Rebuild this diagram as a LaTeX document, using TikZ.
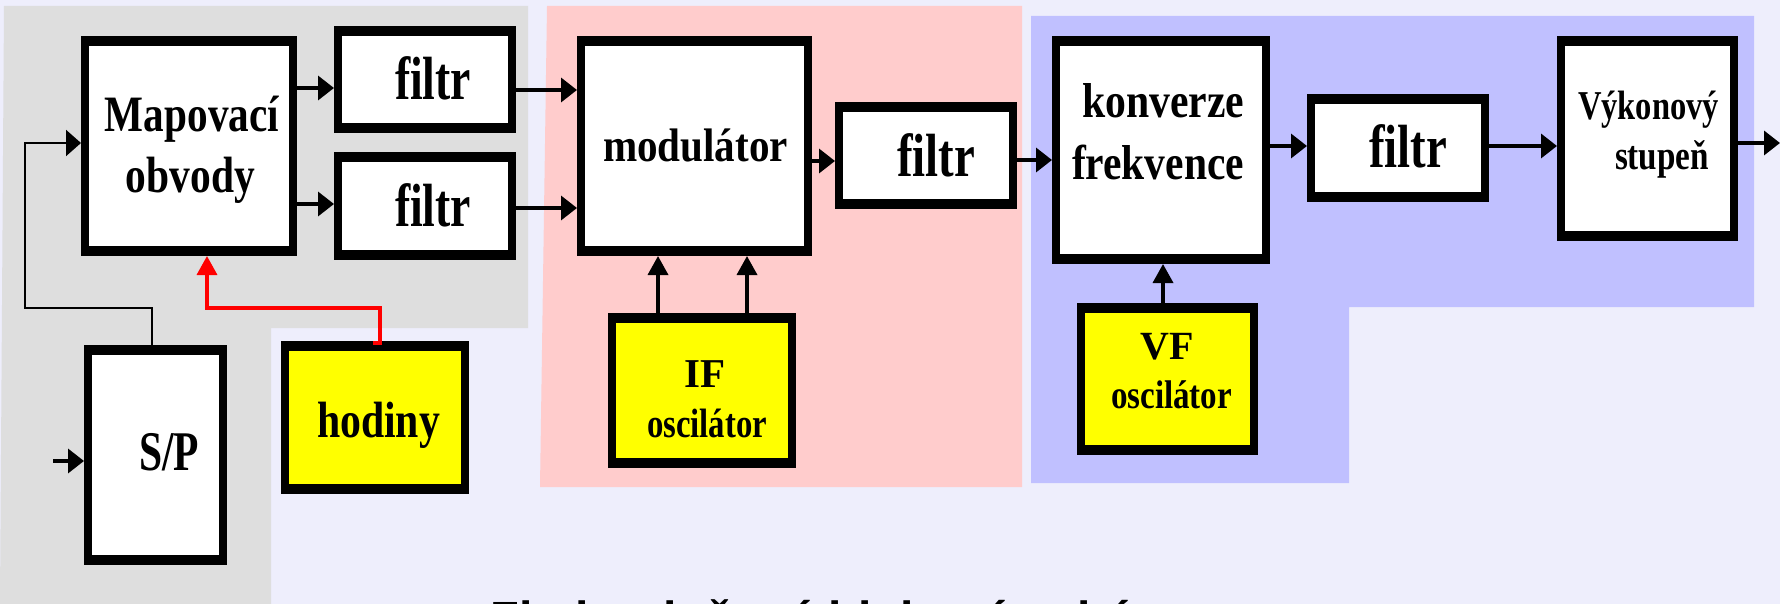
\documentclass[tikz,border=0pt]{standalone}
\usepackage{fontspec}
\usepackage{graphicx}
\setmainfont{Liberation Serif}
\newfontfamily\arsans{Liberation Sans}
\usetikzlibrary{arrows.meta}
\newcommand\fitw[2]{\resizebox{#1pt}{\height}{#2}}
\definecolor{bgc}{RGB}{238,238,252}
\definecolor{greyc}{RGB}{222,222,222}
\definecolor{pinkc}{RGB}{255,204,204}
\definecolor{bluec}{RGB}{192,192,255}
\definecolor{yel}{RGB}{255,255,0}
\begin{document}
\begin{tikzpicture}[x=1pt,y=-1pt,
  blk/.style={draw=none, fill=black, inner sep=0pt, outer sep=0pt,
    path picture={\fill[#1] ([xshift=8pt,yshift=10pt]path picture bounding box.south west)
      rectangle ([xshift=-8pt,yshift=-10pt]path picture bounding box.north east);}},
  lbl/.style={inner sep=0pt, outer sep=0pt, anchor=base, font=\bfseries\fontsize{#1}{#1}\selectfont},
  conn/.style={line width=3.5pt, -{Triangle[length=16pt,width=24pt]}},
  vconn/.style={line width=3.5pt, -{Triangle[length=19pt,width=20pt]}},
  thinconn/.style={line width=2pt, -{Triangle[length=15pt,width=26pt]}},
  redconn/.style={line width=3.5pt, red, -{Triangle[length=19pt,width=20pt]}},
]
\useasboundingbox (0,0) rectangle (1780,604);
\clip (0,0) rectangle (1780,604);
% background and regions
\fill[bgc] (0,0) rectangle (1780,604);
\fill[greyc] (4,6) -- (528,6) -- (528,328) -- (271,328) -- (271,604) -- (0,604) -- cycle;
\fill[pinkc] (547,6) -- (1022,6) -- (1022,487) -- (540,487) -- cycle;
\fill[bluec] (1031,16) -- (1754,16) -- (1754,307) -- (1349,307) -- (1349,483) -- (1031,483) -- cycle;

% boxes
\node[blk=white, minimum width=216pt, minimum height=220pt] (map) at (189,146) {};
\node[blk=white, minimum width=182pt, minimum height=107pt] (f1) at (425,79.5) {};
\node[blk=white, minimum width=182pt, minimum height=108pt] (f2) at (425,206) {};
\node[blk=white, minimum width=143pt, minimum height=220pt] (sp) at (155.5,455) {};
\node[blk=yel, minimum width=188pt, minimum height=153pt] (hod) at (375,417.5) {};
\node[blk=white, minimum width=235pt, minimum height=220pt] (mod) at (694.5,146) {};
\node[blk=white, minimum width=182pt, minimum height=107pt] (fm) at (926,155.5) {};
\node[blk=yel, minimum width=188pt, minimum height=155pt] (ifo) at (702,390.5) {};
\node[blk=white, minimum width=218pt, minimum height=228pt] (konv) at (1161,150) {};
\node[blk=white, minimum width=182pt, minimum height=108pt] (fr) at (1398,148) {};
\node[blk=white, minimum width=181pt, minimum height=205pt] (vyk) at (1647.5,138.5) {};
\node[blk=yel, minimum width=181pt, minimum height=152pt] (vfo) at (1167.5,379) {};

% labels
\node[lbl=51] (tmap1) at (192,132) {\fitw{174}{Mapovací}};
\node[lbl=51] (tmap2) at (190.5,193) {\fitw{129}{obvody}};
\node[lbl=61] (tf1) at (433,100) {\fitw{76}{filtr}};
\node[lbl=61] (tf2) at (433,227) {\fitw{76}{filtr}};
\node[lbl=56] (tsp) at (169,470) {\fitw{60}{S/P}};
\node[lbl=51] (thod) at (378.5,437) {\fitw{123}{hodiny}};
\node[lbl=47] (tmod) at (695.5,162) {\fitw{185}{modulátor}};
\node[lbl=61] (tfm) at (936,177) {\fitw{78}{filtr}};
\node[lbl=41] (tif1) at (705,387) {IF};
\node[lbl=41] (tif2) at (707,437) {\fitw{120}{oscilátor}};
\node[lbl=49] (tk1) at (1163,118) {\fitw{162}{konverze}};
\node[lbl=49] (tk2) at (1158,180) {\fitw{172}{frekvence}};
\node[lbl=61] (tfr) at (1408,168) {\fitw{78}{filtr}};
\node[lbl=41] (tv1) at (1648.5,120) {\fitw{141}{Výkonový}};
\node[lbl=41] (tv2) at (1662,170) {\fitw{94}{stupeň}};
\node[lbl=40] (tvf1) at (1167.5,359) {VF};
\node[lbl=40] (tvf2) at (1171.5,408) {\fitw{121}{oscilátor}};

% title (cut off at the bottom edge, as in the reference)
\node[inner sep=0pt, anchor=base west, font=\arsans\bfseries\fontsize{48}{58}\selectfont] (title) at (490,635) {Zjednodušené blokové schéma};

% connectors
\coordinate (spin) at (53,461);
\draw[conn] (spin) -- (sp.west |- spin);
\draw[thinconn] ([xshift=-3.5pt]sp.north) |- (25,308) |- (map.west |- 0,143);
\draw[redconn] ([shift={(-2pt,-2pt)}]hod.north) -- ([shift={(5pt,-2pt)}]hod.north) |- (207,308) -- (map.south -| 207,0);
\draw[conn] (map.east |- 0,88) -- (f1.west |- 0,88);
\draw[conn] (map.east |- 0,204) -- (f2.west |- 0,204);
\draw[conn] (f1.east |- 0,90) -- (mod.west |- 0,90);
\draw[conn] (f2.east |- 0,208) -- (mod.west |- 0,208);
\draw[conn] (mod.east |- 0,161) -- (fm.west |- 0,161);
\draw[vconn] (ifo.north -| 658,0) -- (mod.south -| 658,0);
\draw[vconn] (ifo.north -| 747,0) -- (mod.south -| 747,0);
\draw[conn] (fm.east |- 0,160) -- (konv.west |- 0,160);
\draw[vconn] (vfo.north -| 1163,0) -- (konv.south -| 1163,0);
\draw[conn] (konv.east |- 0,146) -- (fr.west |- 0,146);
\draw[conn] (fr.east |- 0,146) -- (vyk.west |- 0,146);
\coordinate (out) at (1780,143);
\draw[conn] (vyk.east |- out) -- (out);
\end{tikzpicture}
\end{document}
